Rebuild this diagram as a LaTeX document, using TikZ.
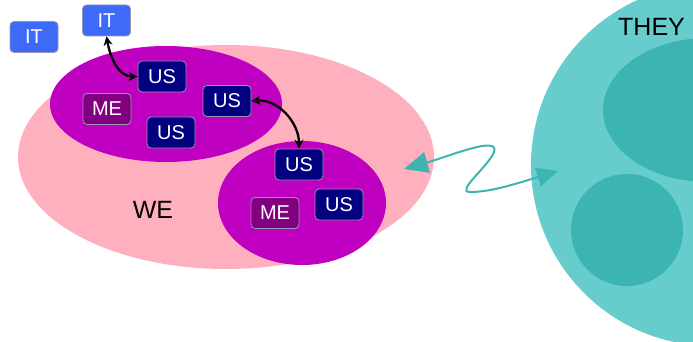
\documentclass[tikz,border=0pt]{standalone}
\usepackage{fontspec}
\setmainfont{Liberation Sans}
\usetikzlibrary{arrows.meta}
\definecolor{pinkbg}{RGB}{255,176,190}
\definecolor{magen}{RGB}{192,0,192}
\definecolor{navybox}{RGB}{0,0,128}
\definecolor{mebox}{RGB}{128,0,128}
\definecolor{itbox}{RGB}{62,106,250}
\definecolor{tealA}{RGB}{102,205,204}
\definecolor{tealB}{RGB}{60,180,178}
\definecolor{boxedge}{RGB}{150,150,175}
\begin{document}
\begin{tikzpicture}[x=1pt,y=1pt,
  tag/.style={rectangle,rounded corners=4pt,draw=boxedge,line width=0.8pt,
    minimum width=48pt,minimum height=31pt,inner sep=0pt,text=white,
    font=\fontsize{20}{20}\selectfont},
  usbox/.style={tag,fill=navybox},
  mebx/.style={tag,fill=mebox},
  itbx/.style={tag,fill=itbox},
  linkarrow/.style={line width=2.3pt,{Stealth[length=9pt,width=9pt]}-{Stealth[length=9pt,width=9pt]}},
  bigtext/.style={font=\fontsize{25}{25}\selectfont,text=black,inner sep=0pt}
]
\path[use as bounding box] (0,0) rectangle (693,-342);
\clip (0,0) rectangle (693,-342);
% WE side
\fill[pinkbg] (226,-157) ellipse [x radius=208, y radius=112];
\fill[magen] (166,-104) ellipse [x radius=116, y radius=58];
\fill[magen] (302,-203) ellipse [x radius=84, y radius=62];
% THEY side
\fill[tealA] (712,-165) circle [radius=181];
\fill[tealB] (708,-110) ellipse [x radius=105, y radius=72];
\fill[tealB] (627,-230) circle [radius=56];
\node[bigtext,anchor=west] (they) at (618,-27) {THEY};
\node[bigtext] (we) at (153,-210) {WE};
% boxes
\node[itbx] (it1) at (34,-37) {IT};
\node[itbx] (it2) at (106.5,-20.5) {IT};
\node[usbox] (us1) at (162,-76.5) {US};
\node[mebx] (me1) at (107,-109) {ME};
\node[usbox] (us2) at (227,-101) {US};
\node[usbox] (us3) at (171,-132.5) {US};
\node[usbox] (us4) at (299,-164.5) {US};
\node[usbox] (us5) at (339,-204.5) {US};
\node[mebx] (me2) at (275,-213) {ME};
% black links
\draw[linkarrow] (it2.south) to[out=-80,in=180] (us1.west);
\draw[linkarrow] (us2.east) to[out=5,in=90] (us4.north);
% teal connector
\coordinate (lt) at (404,-169);
\coordinate (rt) at (558,-171);
\draw[tealB,line width=2pt,{Triangle[length=24pt,width=21pt]}-{Triangle[length=21pt,width=19pt]}]
  (lt) .. controls (450,-156) and (500,-135) .. (494,-152)
  .. controls (488,-167) and (455,-192) .. (470,-192)
  .. controls (490,-192) and (512,-185) .. (rt);
\end{tikzpicture}
\end{document}
